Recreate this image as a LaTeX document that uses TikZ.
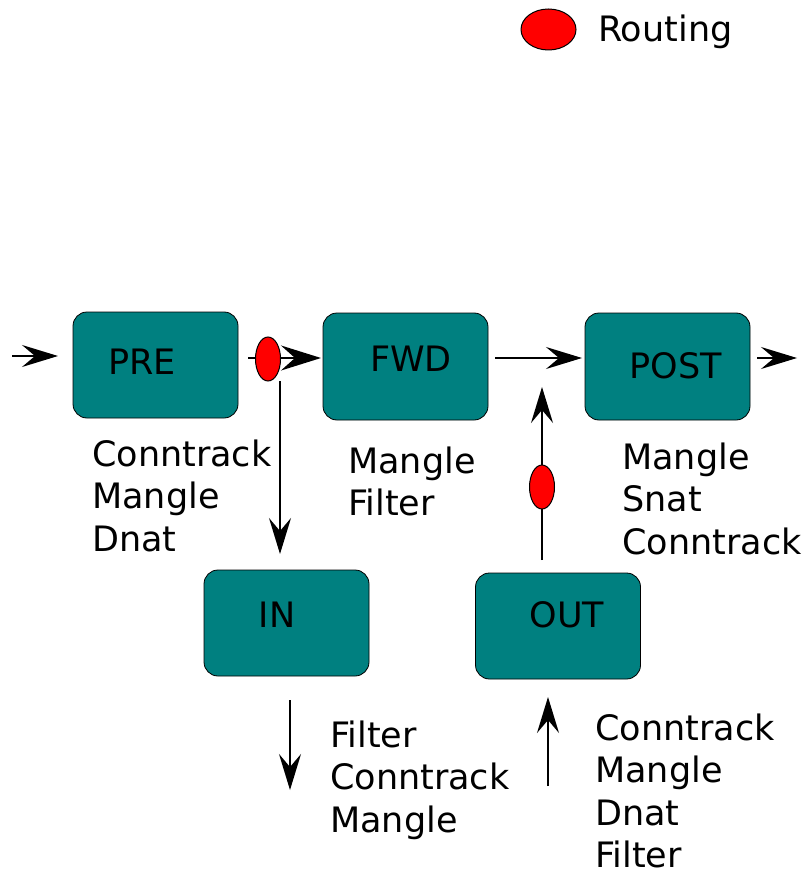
\documentclass[tikz,border=0pt]{standalone}
\usepackage{fontspec}
\setmainfont{DejaVu Sans}
\usetikzlibrary{arrows.meta,shapes.geometric}
\definecolor{tealbox}{HTML}{008080}
\begin{document}
\begin{tikzpicture}[x=1pt,y=-1pt,
 box/.style={draw=black,line width=0.8pt,fill=tealbox,rounded corners=14pt,minimum width=165pt,minimum height=106pt,inner sep=0pt},
 lbl/.style={font=\fontsize{35}{42.5}\selectfont,inner sep=0pt},
 txt/.style={font=\fontsize{35}{42.5}\selectfont,inner sep=0pt,align=left,anchor=base west},
 route/.style={ellipse,draw=black,line width=1pt,fill=red,inner sep=0pt},
 arr/.style={line width=2pt,-{Stealth[length=36pt,width=22pt,inset=13pt]}}]
\useasboundingbox (0,0) rectangle (801,874);

% boxes
\node[box] (pre) at (155.5,365) {};
\node[box,minimum height=107pt] (fwd) at (405.5,366.5) {};
\node[box,minimum height=107pt] (post) at (667.5,366.5) {};
\node[box] (inb) at (286.5,623) {};
\node[box] (outb) at (558,626) {};

\node[lbl] (preT) at (142,362) {PRE};
\node[lbl] (fwdT) at (411,359) {FWD};
\node[lbl] (postT) at (676,366) {POST};
\node[lbl] (inT) at (277,615) {IN};
\node[lbl] (outT) at (567,615) {OUT};

% connector endpoints
\coordinate (a0) at (12,356);
\coordinate (a1) at (58,356);
\coordinate (b0) at (248,358);
\coordinate (b1) at (321,358);
\coordinate (c0) at (280,381);
\coordinate (c1) at (280,554);
\coordinate (d0) at (495,358);
\coordinate (d1) at (582,358);
\coordinate (e0) at (757,358);
\coordinate (e1) at (797,358);
\coordinate (f0) at (542,560);
\coordinate (f1) at (542,387);
\coordinate (g0) at (290,700);
\coordinate (g1) at (290,790);
\coordinate (h0) at (548,786);
\coordinate (h1) at (548,697);

\draw[arr] (a0) -- (a1);
\draw[line width=2pt,-{Stealth[length=40pt,width=25pt,inset=14pt]}] (b0) -- (b1);
\draw[arr] (c0) -- (c1);
\draw[arr] (d0) -- (d1);
\draw[arr] (e0) -- (e1);
\draw[arr] (f0) -- (f1);
\draw[arr] (g0) -- (g1);
\draw[arr] (h0) -- (h1);

% routing points
\node[route,minimum width=25pt,minimum height=44pt] (r1) at (268,359) {};
\node[route,minimum width=25pt,minimum height=44pt] (r2) at (542,487) {};
\node[route,minimum width=55pt,minimum height=41pt] (rl) at (548.5,29.5) {};
\node[txt] (rlT) at (598,42) {Routing};

% texts (anchor = baseline of last line)
\node[txt] (t1) at (92,551) {Conntrack\\Mangle\\Dnat};
\node[txt] (t2) at (348,515.5) {Mangle\\Filter};
\node[txt] (t3) at (622,554) {Mangle\\Snat\\Conntrack};
\node[txt] (t4) at (330,832) {Filter\\Conntrack\\Mangle};
\node[txt] (t5) at (595,867.5) {Conntrack\\Mangle\\Dnat\\Filter};
\end{tikzpicture}
\end{document}
